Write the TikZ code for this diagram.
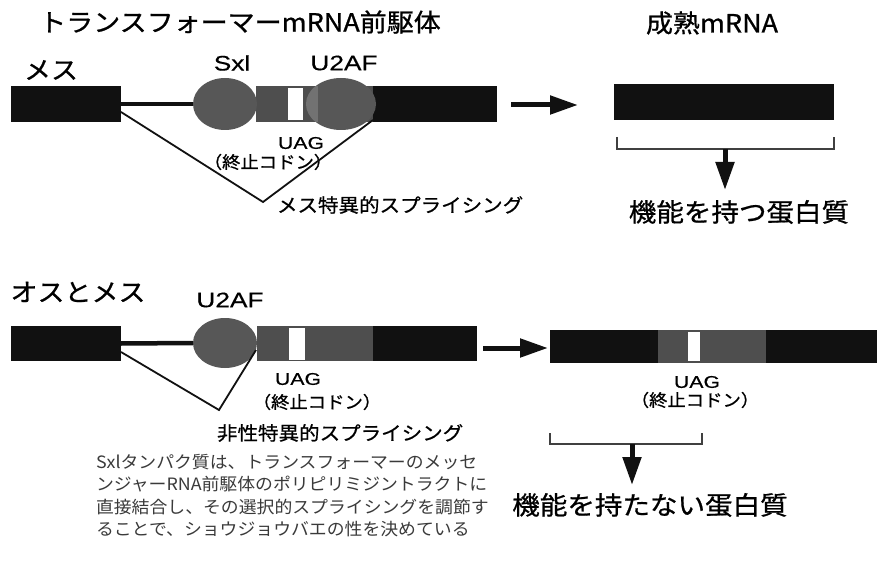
\documentclass[tikz,border=0pt]{standalone}
\usepackage{fontspec}
\setmainfont{Noto Sans CJK JP}[FakeStretch=1.08,FakeBold=0.8]
\newfontfamily\plainjp{Noto Sans CJK JP}[FakeStretch=1.05]
\newfontfamily\latinlbl{Liberation Sans}[FakeStretch=1.25,FakeBold=0.4]
\usetikzlibrary{arrows.meta,shapes.geometric}
\definecolor{exonblack}{HTML}{111111}
\definecolor{midgray}{HTML}{4E4E4E}
\definecolor{ellgray}{HTML}{575757}
\definecolor{overlapgray}{HTML}{727272}
\definecolor{textgray}{HTML}{3A3A3A}
\newcommand{\fs}[1]{\fontsize{#1}{#1}\selectfont}
\begin{document}
\begin{tikzpicture}[x=1pt,y=-1pt,
  box/.style={rectangle, draw=none, inner sep=0pt, outer sep=0pt},
  exon/.style={box, fill=exonblack},
  grayseg/.style={box, fill=midgray},
  whiteseg/.style={box, fill=white},
  protein/.style={ellipse, fill=ellgray, draw=none, inner sep=0pt, outer sep=0pt},
  intron/.style={line width=4.5pt, draw=exonblack},
  splice/.style={line width=1.8pt, draw=exonblack, line join=miter},
  bigarrow/.style={line width=5pt, draw=exonblack, -{Triangle[length=28pt,width=18pt]}},
  bracketline/.style={line width=1.2pt, draw=black!75},
  lbl/.style={inner sep=0pt, outer sep=0pt, text=black},
  bigtitle/.style={lbl, font=\fs{25}},
  sexlabel/.style={lbl, font=\fs{25}},
  protlabel/.style={lbl, font=\latinlbl\fs{21}},
  uaglabel/.style={lbl, font=\latinlbl\fs{17}},
  codonlabel/.style={lbl, font=\fs{17}},
  splicelabel/.style={lbl, font=\fs{19}},
  resultlabel/.style={lbl, font=\fs{25.5}},
]
\useasboundingbox (0,0) rectangle (877,561);
\fill[white] (0,0) rectangle (877,561);

% ---------------- top row (female) ----------------
\node[bigtitle] (title) at (240,22) {トランスフォーマーmRNA前駆体};
\node[sexlabel] (fem) at (51,70) {メス};

\node[exon, minimum width=110pt, minimum height=36pt] (exL1) at (66,104) {};
\node[grayseg, minimum width=117pt, minimum height=36pt] (gb1) at (314.5,104) {};
\node[whiteseg, minimum width=15pt, minimum height=32pt] (wb1) at (295.5,104) {};
\node[exon, minimum width=124pt, minimum height=36pt] (exR1) at (435,104) {};
\node[protein, minimum width=64pt, minimum height=52pt] (sxl) at (225,104) {};
\node[protein, minimum width=70pt, minimum height=52pt] (u2af1) at (341,104) {};
\begin{scope}
  \clip (341,104) ellipse [x radius=35, y radius=26];
  \fill[overlapgray] (303,86) rectangle (318,122);
\end{scope}
\draw[intron] (exL1.east) -- (sxl.west);

\node[protlabel] (sxlL) at (232,63) {Sxl};
\node[protlabel] (u2afL1) at (344,63) {U2AF};
\node[uaglabel] (uag1) at (301,143) {UAG};
\node[codonlabel] (stop1) at (268,162) {（終止コドン）};

\coordinate (v1a) at (121,112);
\coordinate (v1b) at (263,202);
\coordinate (v1c) at (373,120);
\draw[splice] (v1a) -- (v1b) -- (v1c);
\node[splicelabel, anchor=west] (spl1) at (277,205) {メス特異的スプライシング};

\coordinate (a1s) at (511,105);
\coordinate (a1e) at (578,105);
\draw[bigarrow] (a1s) -- (a1e);

\node[lbl, font=\fs{25}] (matL) at (712,23) {成熟mRNA};
\node[exon, minimum width=220pt, minimum height=36pt] (mat1) at (724,102) {};
\coordinate (b1a) at (617,137);
\coordinate (b1b) at (617,149);
\coordinate (b1c) at (834,149);
\coordinate (b1d) at (834,137);
\draw[bracketline] (b1a) -- (b1b) -- (b1c) -- (b1d);
\coordinate (d1s) at (725,149);
\coordinate (d1e) at (725,190);
\draw[bigarrow] (d1s) -- (d1e);
\node[resultlabel] (func) at (739,212) {機能を持つ蛋白質};

% ---------------- bottom row (male and female) ----------------
\node[sexlabel] (both) at (78,292) {オスとメス};
\node[protlabel] (u2afL2) at (230,300) {U2AF};

\node[exon, minimum width=110pt, minimum height=35pt] (exL2) at (66,343.5) {};
\node[grayseg, minimum width=116pt, minimum height=35pt] (gb2) at (315,343.5) {};
\node[whiteseg, minimum width=16pt, minimum height=32pt] (wb2) at (297,343.5) {};
\node[exon, minimum width=104pt, minimum height=35pt] (exR2) at (425,343.5) {};
\node[protein, minimum width=64pt, minimum height=50pt] (u2af2) at (225,343) {};
\draw[intron] (exL2.east) -- (u2af2.west);

\node[uaglabel] (uag2) at (298,379) {UAG};
\node[codonlabel] (stop2) at (317,402) {（終止コドン）};

\coordinate (v2a) at (121,352);
\coordinate (v2b) at (219,410);
\coordinate (v2c) at (256,350);
\draw[splice] (v2a) -- (v2b) -- (v2c);
\node[splicelabel, anchor=west] (spl2) at (217,433) {非性特異的スプライシング};

\coordinate (a2s) at (483,348);
\coordinate (a2e) at (548,348);
\draw[bigarrow] (a2s) -- (a2e);

\node[exon, minimum width=108pt, minimum height=33pt] (m2a) at (604,346.5) {};
\node[grayseg, minimum width=108pt, minimum height=33pt] (m2b) at (712,346.5) {};
\node[whiteseg, minimum width=12pt, minimum height=29pt] (m2w) at (694,346.5) {};
\node[exon, minimum width=111pt, minimum height=33pt] (m2c) at (821.5,346.5) {};

\node[uaglabel] (uag3) at (697,382) {UAG};
\node[codonlabel] (stop3) at (695,400) {（終止コドン）};

\coordinate (b2a) at (550,433);
\coordinate (b2b) at (550,444);
\coordinate (b2c) at (702,444);
\coordinate (b2d) at (702,433);
\draw[bracketline] (b2a) -- (b2b) -- (b2c) -- (b2d);
\coordinate (d2s) at (632,444);
\coordinate (d2e) at (632,485);
\draw[bigarrow] (d2s) -- (d2e);
\node[resultlabel] (nonfunc) at (650,505) {機能を持たない蛋白質};

% ---------------- caption ----------------
\node[lbl, anchor=north west, align=left, text=textgray, font={\plainjp\fontsize{17}{22.5}\selectfont}] (caption) at (96,454)
 {Sxlタンパク質は、トランスフォーマーのメッセ\\ンジャーRNA前駆体のポリピリミジントラクトに\\直接結合し、その選択的スプライシングを調節す\\ることで、ショウジョウバエの性を決めている};
\end{tikzpicture}
\end{document}
